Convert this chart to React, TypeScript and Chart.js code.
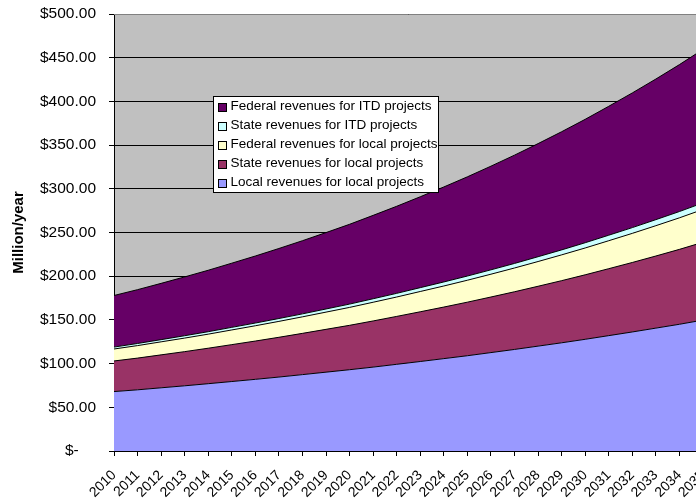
import React, { useEffect, useRef } from "react";
import { Chart, registerables } from "chart.js";

Chart.register(...registerables);

const years: string[] = [
  "2010", "2011", "2012", "2013", "2014", "2015", "2016", "2017", "2018",
  "2019", "2020", "2021", "2022", "2023", "2024", "2025", "2026", "2027",
  "2028", "2029", "2030", "2031", "2032", "2033", "2034", "2035",
];

const localLocal: number[] = [
  68, 70, 72.3, 74.6, 77, 79.5, 82, 84.6, 87.4, 90.2, 93, 96, 99.2, 102.4,
  105.7, 109, 112.6, 116.2, 120, 123.8, 127.8, 132, 136.2, 140.6, 145, 149.8,
];
const stateLocal: number[] = [
  35, 36.3, 37.7, 39.1, 40.6, 42.2, 43.8, 45.5, 47.2, 49, 50.8, 52.8, 54.8,
  56.9, 59, 61.3, 63.6, 66, 68.5, 71.1, 73.8, 76.6, 79.5, 82.5, 85.7, 89,
];
const federalLocal: number[] = [
  13.7, 14.3, 14.9, 15.5, 16.1, 16.8, 17.5, 18.2, 18.9, 19.7, 20.5, 21.4,
  22.2, 23.2, 24.1, 25.1, 26.1, 27.2, 28.3, 29.5, 30.7, 32, 33.3, 34.7, 36.1,
  37.6,
];
const stateITD: number[] = [
  2.2, 2.4, 2.5, 2.7, 2.8, 3, 3.1, 3.3, 3.4, 3.6, 3.8, 4, 4.2, 4.4, 4.6, 4.8,
  5, 5.2, 5.5, 5.7, 6, 6.3, 6.6, 6.9, 7.2, 7.5,
];
const federalITD: number[] = [
  59, 61.6, 64.4, 67.3, 70.3, 73.4, 76.7, 80.1, 83.7, 87.4, 91.3, 95.4, 99.6,
  104, 108.7, 113.5, 118.6, 123.9, 129.4, 135.2, 141.2, 147.5, 154.1, 160.9,
  168.1, 175.6,
];

const seriesLabels: string[] = [
  "Local revenues for local projects",
  "State revenues for local projects",
  "Federal revenues for local projects",
  "State revenues for ITD projects",
  "Federal revenues for ITD projects",
];
const seriesColors: string[] = ["#9999FF", "#993366", "#FFFFCC", "#CCFFFF", "#660066"];

const FONT = 'Arial, "Liberation Sans", sans-serif';

const plotBg = {
  id: "plotBg",
  beforeDraw(chart: any) {
    const { ctx, chartArea } = chart;
    ctx.save();
    ctx.fillStyle = "#C0C0C0";
    ctx.fillRect(chartArea.left, chartArea.top, chartArea.right - chartArea.left, chartArea.bottom - chartArea.top);
    ctx.restore();
  },
  afterDraw(chart: any) {
    const { ctx, chartArea } = chart;
    ctx.save();
    ctx.strokeStyle = "#808080";
    ctx.lineWidth = 1;
    ctx.beginPath();
    ctx.moveTo(chartArea.left, chartArea.top + 0.5);
    ctx.lineTo(chartArea.right, chartArea.top + 0.5);
    ctx.stroke();

    // legend inside the plot
    const lx = Math.round(chartArea.left + 99) + 0.5;
    const ly = Math.round(chartArea.top + 82) + 0.5;
    const lw = 225;
    const lh = 96;
    ctx.fillStyle = "#FFFFFF";
    ctx.fillRect(lx, ly, lw, lh);
    ctx.strokeStyle = "#000000";
    ctx.strokeRect(lx, ly, lw, lh);
    ctx.font = `13.5px ${FONT}`;
    ctx.textBaseline = "middle";
    ctx.textAlign = "left";
    const ds = chart.data.datasets;
    for (let k = 0; k < ds.length; k++) {
      const d = ds[ds.length - 1 - k];
      const cy = ly + 10 + k * 19;
      ctx.fillStyle = d.backgroundColor;
      ctx.fillRect(lx + 5, Math.round(cy - 4) + 0.5, 8, 8);
      ctx.strokeStyle = "#000000";
      ctx.strokeRect(lx + 5, Math.round(cy - 4) + 0.5, 8, 8);
      ctx.fillStyle = "#000000";
      ctx.fillText(d.label, lx + 17, cy);
    }
    ctx.restore();
  },
};

export default function App() {
  const ref = useRef<HTMLCanvasElement>(null);
  useEffect(() => {
    if (!ref.current) return;
    const values = [localLocal, stateLocal, federalLocal, stateITD, federalITD];
    const chart = new Chart(ref.current, {
      type: "line",
      data: {
        labels: years,
        datasets: values.map((v, i) => ({
          label: seriesLabels[i],
          data: v,
          backgroundColor: seriesColors[i],
          borderColor: "#000000",
          borderWidth: 1,
          pointRadius: 0,
          tension: 0,
          fill: i === 0 ? "origin" : "-1",
        })),
      },
      options: {
        responsive: false,
        animation: false,
        devicePixelRatio: 1,
        layout: { padding: { top: 14, right: 17, left: 0, bottom: 0 } },
        plugins: { legend: { display: false }, tooltip: { enabled: false } },
        scales: {
          x: {
            offset: false,
            grid: { drawOnChartArea: false, drawTicks: true, tickLength: 5, color: "#000000" },
            border: { color: "#000000" },
            ticks: {
              autoSkip: false,
              maxRotation: 45,
              minRotation: 45,
              padding: 11,
              color: "#000000",
              font: { family: FONT, size: 14 },
            },
            afterFit(scale: any) {
              scale.height = 49;
              scale.paddingRight = 0;
            },
          },
          y: {
            stacked: true,
            min: 0,
            max: 500,
            grid: { color: "#000000", tickLength: 5 },
            border: { color: "#000000" },
            ticks: {
              stepSize: 50,
              padding: 13,
              color: "#000000",
              font: { family: FONT, size: 15.5 },
              callback: (v: any) => (Number(v) === 0 ? "$-    " : "$" + Number(v).toFixed(2)),
            },
            title: {
              display: true,
              text: "Million/year",
              color: "#000000",
              font: { family: FONT, size: 15, weight: "bold" },
              padding: { top: 10, bottom: 0 },
            },
            afterFit(scale: any) {
              scale.width = 114;
              scale.paddingTop = 0;
              scale.paddingBottom = 0;
            },
          },
        },
      },
      plugins: [plotBg],
    });
    return () => chart.destroy();
  }, []);
  return (
    <div style={{ position: "absolute", left: 0, top: 0, width: 696, height: 500, overflow: "hidden", background: "#FFFFFF" }}>
      <canvas ref={ref} width={720} height={500} style={{ width: 720, height: 500, display: "block" }} />
    </div>
  );
}
